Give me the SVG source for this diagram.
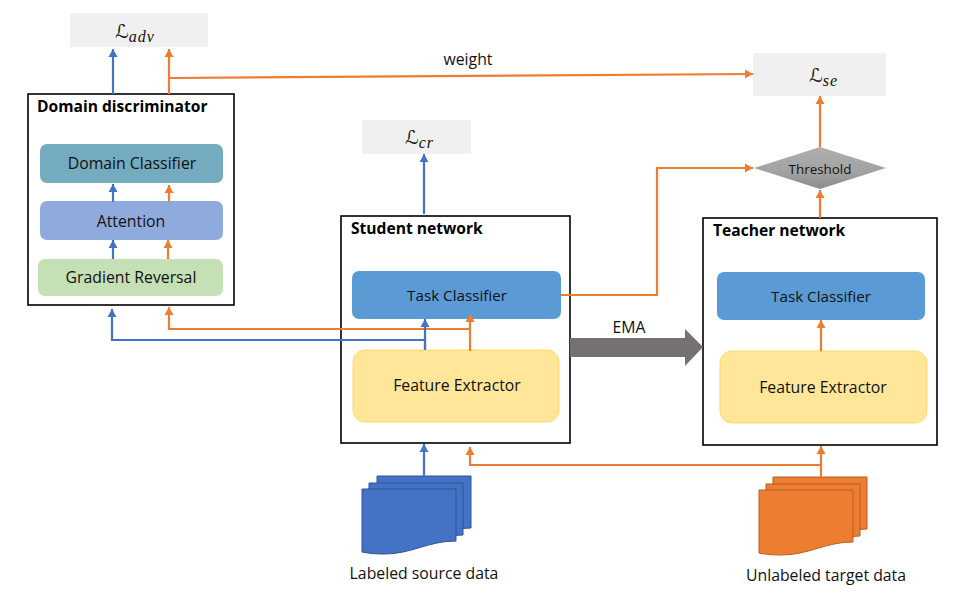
<svg xmlns="http://www.w3.org/2000/svg" width="977" height="605" viewBox="0 0 977 605">
<defs>
<linearGradient id="diamond" x1="0" y1="0" x2="0" y2="1"><stop offset="0" stop-color="#afafaf"/><stop offset="0.6" stop-color="#a2a2a2"/><stop offset="1" stop-color="#8b8b8b"/></linearGradient>
<marker id="ab" markerUnits="userSpaceOnUse" markerWidth="10" markerHeight="10" refX="8" refY="5" orient="auto"><path d="M0,0.5 L8,5 L0,9.500 Z" fill="#4472c4"/></marker>
<marker id="ao" markerUnits="userSpaceOnUse" markerWidth="10" markerHeight="10" refX="8" refY="5" orient="auto"><path d="M0,0.5 L8,5 L0,9.500 Z" fill="#ed7d31"/></marker>
<path id="doc" d="M0,0 H94 V52 C66,52 50,65 22,65 C12,65 5,64 0,63 Z"/>
</defs>
<style>
text{font-family:"Open Sans","Noto Sans","Liberation Sans",sans-serif;font-size:15.800px;fill:#111;text-anchor:middle}
.t{font-weight:700;text-anchor:start;font-size:15.600px;fill:#000}
.tc{font-size:15.200px}
.box{fill:#fff;stroke:#000;stroke-width:1.6}
.loss{fill:#f0f0f0}
.m{font-family:"DejaVu Sans","Liberation Serif",serif;font-size:19px;fill:#111;text-anchor:start}
.m tspan{font-family:"Liberation Serif",serif;font-style:italic;font-size:16px;letter-spacing:1px}
.b{fill:none;stroke:#4472c4;stroke-width:2.200;marker-end:url(#ab)}
.o{fill:none;stroke:#ed7d31;stroke-width:2.200;marker-end:url(#ao)}
.pb{fill:#4472c4;stroke:#2f5597;stroke-width:1}
.po{fill:#ed7d31;stroke:#b85f22;stroke-width:1}
</style>
<g id="loss-adv"><rect class="loss" x="70" y="13" width="138" height="34"/><text class="m" x="115" y="38">ℒ<tspan dy="3.500">adv</tspan></text></g>
<g id="loss-se"><rect class="loss" x="753" y="53" width="133" height="43"/><text class="m" x="809" y="82">ℒ<tspan dy="3.500">se</tspan></text></g>
<g id="loss-cr"><rect class="loss" x="362" y="120" width="109" height="34"/><text class="m" x="405" y="144">ℒ<tspan dy="3.500">cr</tspan></text></g>
<g id="domain-discriminator"><rect class="box" x="28" y="94" width="206" height="211"/><text class="t" x="37" y="112">Domain discriminator</text></g>
<g id="domain-classifier"><rect x="40" y="144" width="183" height="39" rx="7" fill="#74abbf"/><text x="132" y="169">Domain Classifier</text></g>
<g id="attention"><rect x="40" y="201" width="183" height="39" rx="7" fill="#8faadc"/><text x="131" y="227">Attention</text></g>
<g id="gradient-reversal"><rect x="38" y="259" width="185" height="37" rx="7" fill="#c5e0b4"/><text x="131" y="283">Gradient Reversal</text></g>
<g id="student-network"><rect class="box" x="341" y="216" width="229" height="227"/><text class="t" x="351" y="234">Student network</text></g>
<g id="student-task"><rect x="352" y="271" width="209" height="48" rx="7" fill="#5b9bd5"/><text class="tc" x="457" y="301">Task Classifier</text></g>
<g id="student-feature"><rect x="353" y="350" width="206" height="72" rx="12" fill="#ffe699" stroke="#ffd966" stroke-width="1"/><text x="457" y="391">Feature Extractor</text></g>
<g id="teacher-network"><rect class="box" x="703" y="218" width="234" height="227"/><text class="t" x="713" y="236">Teacher network</text></g>
<g id="teacher-task"><rect x="717" y="272" width="208" height="48" rx="7" fill="#5b9bd5"/><text class="tc" x="821" y="302">Task Classifier</text></g>
<g id="teacher-feature"><rect x="720" y="351" width="207" height="72" rx="12" fill="#ffe699" stroke="#ffd966" stroke-width="1"/><text x="823" y="393">Feature Extractor</text></g>
<g id="threshold"><path d="M754,168 L820,147 L886,168 L820,189 Z" fill="url(#diamond)"/><text x="820" y="174" style="font-size:13.400px">Threshold</text></g>
<g id="ema"><path d="M570,338 H685 V329 L703,347 L685,366 V357 H570 Z" fill="#767171"/><text x="629" y="333">EMA</text></g>
<g id="source-data"><use href="#doc" class="pb" x="377" y="476"/><use href="#doc" class="pb" x="369" y="483"/><use href="#doc" class="pb" x="362" y="489"/><text x="424" y="579">Labeled source data</text></g>
<g id="target-data"><use href="#doc" class="po" x="773" y="477"/><use href="#doc" class="po" x="766" y="484"/><use href="#doc" class="po" x="759" y="490"/><text x="826" y="581">Unlabeled target data</text></g>
<g id="connectors">
<path class="b" d="M113,94 V49"/><path class="o" d="M169,94 V49"/>
<path class="o" d="M170,78 L753,74"/><text x="468" y="65">weight</text>
<path class="b" d="M113,202 V184"/><path class="o" d="M169,202 V185"/>
<path class="b" d="M113,259 V240"/><path class="o" d="M168,259 V240"/>
<path class="b" d="M425,350 V340 H112 V309"/><path class="o" d="M469,329 H169 V307"/>
<path class="b" d="M425,350 V319"/><path class="o" d="M470,351 V314"/>
<path class="b" d="M424,214 V154"/>
<path class="o" d="M561,295 H657 V168 H753"/>
<path class="o" d="M820,218 V190"/><path class="o" d="M820,147 V96"/>
<path class="o" d="M821,351 V320"/>
<path class="b" d="M424,476 V444"/>
<path class="o" d="M821,477 V446"/><path class="o" d="M821,465 H470 V447"/>
</g>
</svg>
